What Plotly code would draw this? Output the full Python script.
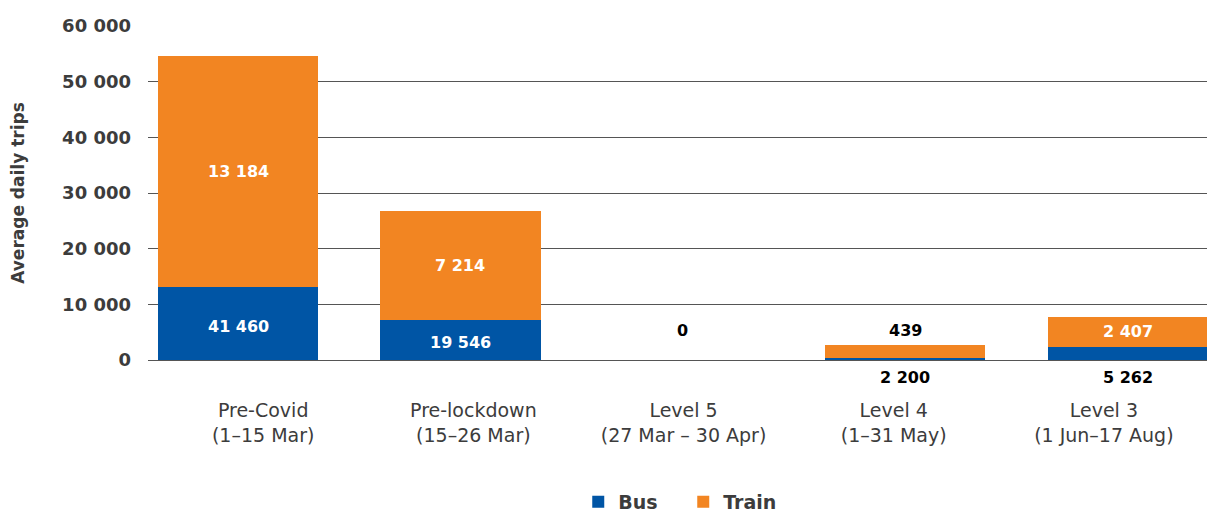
import plotly.graph_objects as go

categories = ["Pre-Covid<br>(1–15 Mar)", "Pre-lockdown<br>(15–26 Mar)",
              "Level 5<br>(27 Mar – 30 Apr)", "Level 4<br>(1–31 May)",
              "Level 3<br>(1 Jun–17 Aug)"]
bus = [13184, 7214, 0, 439, 2407]
train = [41460, 19546, 0, 2200, 5262]
# data labels as printed in the source chart
bus_labels = ["41 460", "19 546", "", "2 200", "5 262"]
train_labels = ["13 184", "7 214", "0", "439", "2 407"]
y_ticks = [0, 10000, 20000, 30000, 40000, 50000, 60000]
y_ticktext = ["0", "10 000", "20 000", "30 000", "40 000", "50 000", "60 000"]

BLUE = "#0055A5"
ORANGE = "#F28522"
FONT = "DejaVu Sans"
TXT = "#3c3c3c"

idx = list(range(len(categories)))

fig = go.Figure()
fig.add_trace(go.Bar(x=idx, y=bus, name="Bus", marker_color=BLUE,
                     marker_line_width=0, xaxis="x", yaxis="y"))
fig.add_trace(go.Bar(x=idx, y=train, name="Train", marker_color=ORANGE,
                     marker_line_width=0, xaxis="x", yaxis="y"))
# invisible trace carrying the category axis
fig.add_trace(go.Scatter(x=idx, y=[None] * len(idx), xaxis="x2", yaxis="y",
                         showlegend=False, hoverinfo="skip", mode="markers"))

THRESH = 3000
ann = []
for i in idx:
    b, t = bus[i], train[i]
    if bus_labels[i]:
        if b >= THRESH:
            ann.append(dict(x=i, y=b / 2, yshift=-3, text=bus_labels[i], font=dict(color="white")))
        else:
            ann.append(dict(x=i, y=0, yshift=-17, text=bus_labels[i], font=dict(color="black")))
    if train_labels[i]:
        if t >= THRESH:
            ann.append(dict(x=i, y=b + t / 2, text=train_labels[i], font=dict(color="white")))
        else:
            ann.append(dict(x=i, y=5300, text=train_labels[i], font=dict(color="black")))
for a in ann:
    a.update(xref="x", yref="y", showarrow=False, yanchor="middle", xanchor="center")
    a["font"].update(family=FONT, size=16, weight="bold")
fig.update_layout(annotations=ann)

fig.update_layout(
    width=1215, height=511,
    margin=dict(l=140, r=13, t=18, b=159, autoexpand=False),
    plot_bgcolor="white", paper_bgcolor="white",
    barmode="stack", bargap=0.28,
    font=dict(family=FONT, color=TXT),
    xaxis=dict(range=[-0.405, 4.37], showticklabels=False, showgrid=False,
               zeroline=False, showline=False, ticks="", automargin=False),
    xaxis2=dict(overlaying="x", anchor="y", side="bottom",
                range=[-0.548, 4.505], tickmode="array", tickvals=idx,
                ticktext=categories, showgrid=False, zeroline=False,
                showline=False, ticks="", ticklabelstandoff=37, automargin=False,
                tickfont=dict(family=FONT, size=19, color=TXT)),
    yaxis=dict(range=[0, 60000], tickmode="array", tickvals=y_ticks,
               ticktext=y_ticktext, showgrid=True, gridcolor="#555555",
               gridwidth=1, zeroline=True, zerolinecolor="#555555",
               zerolinewidth=1, ticks="", ticklabelstandoff=16, automargin=False,
               tickfont=dict(family=FONT, size=18, color=TXT, weight="bold"),
               title=dict(text="Average daily trips", standoff=36,
                          font=dict(family=FONT, size=17, color=TXT, weight="bold"))),
    legend=dict(orientation="h", x=0.504, xanchor="center", y=-0.425,
                yanchor="middle", font=dict(family=FONT, size=19, color=TXT, weight="bold"),
                itemwidth=30, entrywidth=60, entrywidthmode="pixels", traceorder="normal"),
    showlegend=True,
)

fig.write_html("out.html")
